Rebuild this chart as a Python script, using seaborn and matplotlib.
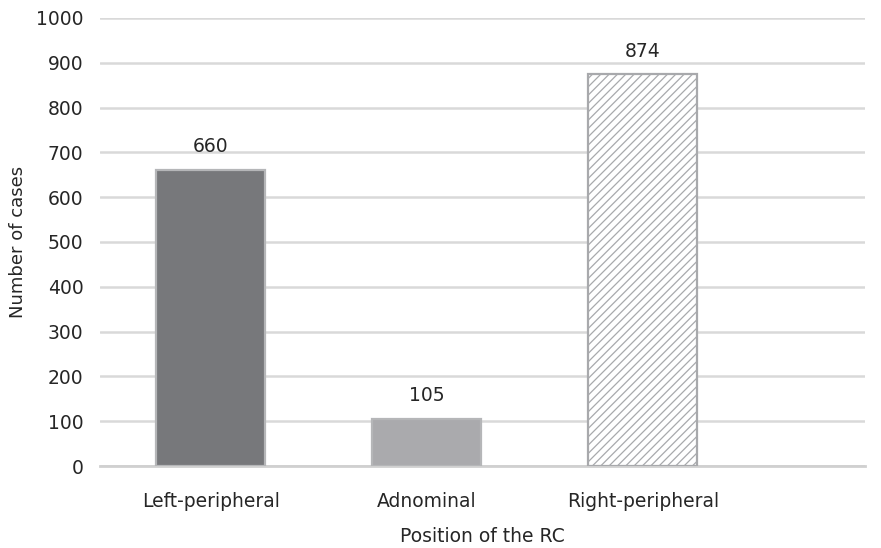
import matplotlib
matplotlib.use('Agg')
import matplotlib.pyplot as plt
import seaborn as sns

# data
positions = ['Left-peripheral', 'Adnominal', 'Right-peripheral']
cases = [660, 105, 874]
bar_colors = ['#77787b', '#a9aaad', '#ffffff']
y_ticks = list(range(0, 1001, 100))

sns.set_style('white')
plt.rcParams['font.family'] = ['DejaVu Sans']
plt.rcParams['hatch.linewidth'] = 0.9
plt.rcParams['hatch.color'] = '#a6a7aa'

fig = plt.figure(figsize=(8.81, 5.48), dpi=100)
ax = fig.add_axes([0.1135, 0.1496, 0.8685, 0.8176])

sns.barplot(x=positions, y=cases, hue=positions, palette=bar_colors,
            width=0.505, edgecolor='#b5b6b8', linewidth=1.6,
            legend=False, ax=ax, zorder=3)

# hatched third bar
ax.patches[2].set_hatch('////')
ax.patches[2].set_edgecolor('#a8a9ac')

for c in ax.containers:
    ax.bar_label(c, padding=10, fontsize=13.5, color='#262626')

ax.set_ylim(0, 1000)
ax.set_xlim(-0.514, 3.03)
ax.set_yticks(y_ticks)
ax.yaxis.grid(True, color='#d9d9d9', linewidth=1.8, zorder=0)
ax.set_axisbelow(True)
for s in ['top', 'right', 'left']:
    ax.spines[s].set_visible(False)
ax.spines['bottom'].set_color('#d0d0d0')
ax.spines['bottom'].set_linewidth(2)

ax.tick_params(axis='y', length=0, pad=12, labelsize=13.5, labelcolor='#262626')
ax.tick_params(axis='x', length=0, pad=19, labelsize=13.5, labelcolor='#262626')
ax.set_xlabel('Position of the RC', fontsize=13.5, color='#262626', labelpad=11)
ax.set_ylabel('Number of cases', fontsize=13, color='#262626', labelpad=6)

fig.savefig('out.png', dpi=100)
